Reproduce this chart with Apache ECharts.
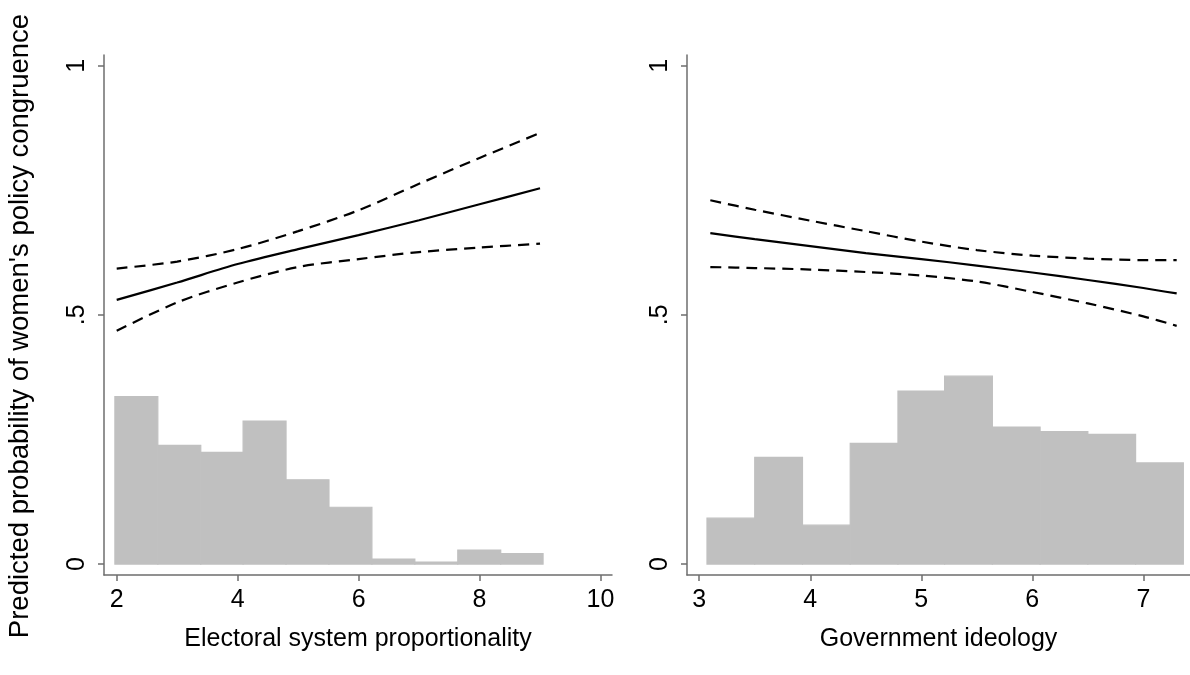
<!DOCTYPE html>
<html>
<head>
<meta charset="utf-8">
<script src="https://cdn.jsdelivr.net/npm/echarts@6/dist/echarts.min.js"></script>
<style>
html,body{margin:0;padding:0;background:#fff;}
#chart{width:1190px;height:675px;}
</style>
</head>
<body>
<div id="chart"></div>
<script>
// ---- Data ----
const yTicks = [0, 0.5, 1];
const yTickLabels = ['0', '.5', '1'];

// Left panel: Electoral system proportionality
const leftXTicks = [2, 4, 6, 8, 10];
const leftX = [2, 3, 4, 5, 6, 7, 8, 9];
const leftFit = [0.530, 0.565, 0.602, 0.632, 0.660, 0.690, 0.722, 0.754];
const leftUpper = [0.593, 0.607, 0.632, 0.668, 0.710, 0.763, 0.815, 0.865];
const leftLower = [0.468, 0.525, 0.565, 0.596, 0.612, 0.626, 0.635, 0.643];
const leftHistEdges = [1.97, 2.68, 3.39, 4.09, 4.80, 5.51, 6.22, 6.93, 7.64, 8.35, 9.05];
const leftHistHeights = [0.336, 0.238, 0.224, 0.287, 0.169, 0.114, 0.010, 0.004, 0.028, 0.021];

// Right panel: Government ideology
const rightXTicks = [3, 4, 5, 6, 7];
const rightX = [3.1, 3.5, 4, 4.5, 5, 5.5, 6, 6.5, 7, 7.3];
const rightFit = [0.664, 0.652, 0.638, 0.624, 0.612, 0.599, 0.585, 0.570, 0.554, 0.543];
const rightUpper = [0.730, 0.711, 0.689, 0.668, 0.647, 0.630, 0.619, 0.613, 0.610, 0.610];
const rightLower = [0.596, 0.594, 0.591, 0.586, 0.579, 0.567, 0.546, 0.523, 0.497, 0.478];
const rightHistEdges = [3.07, 3.50, 3.93, 4.36, 4.79, 5.21, 5.64, 6.07, 6.50, 6.93, 7.36];
const rightHistHeights = [0.092, 0.214, 0.078, 0.242, 0.347, 0.377, 0.275, 0.266, 0.260, 0.203];

const yTitle = "Predicted probability of women's policy congruence";
const leftXTitle = 'Electoral system proportionality';
const rightXTitle = 'Government ideology';

// ---- Build chart ----
const FONT = "'Liberation Sans', Arial, sans-serif";
const AXIS_COLOR = '#6e6e6e';
const HIST_COLOR = '#c0c0c0';

function pairs(xs, ys) { return xs.map((x, i) => [x, ys[i]]); }
function histData(edges, heights) {
  return heights.map((h, i) => [edges[i], edges[i + 1], h]);
}
function histRender(params, api) {
  const p0 = api.coord([api.value(0), api.value(2)]);
  const p1 = api.coord([api.value(1), 0]);
  return {
    type: 'rect',
    shape: { x: p0[0], y: p0[1], width: p1[0] - p0[0], height: p1[1] - p0[1] },
    style: { fill: HIST_COLOR, stroke: HIST_COLOR, lineWidth: 1.2 }
  };
}

function xAxisCfg(idx, min, max, ticks, title) {
  return {
    type: 'value', gridIndex: idx, min: min, max: max,
    name: title, nameLocation: 'middle', nameGap: 52,
    nameTextStyle: { fontFamily: FONT, fontSize: 25, color: '#000' },
    axisLine: { show: true, onZero: false, lineStyle: { color: AXIS_COLOR, width: 1.5 } },
    axisTick: { show: true, length: 6, customValues: ticks, lineStyle: { color: AXIS_COLOR, width: 1.5 } },
    axisLabel: { customValues: ticks, margin: 13, fontFamily: FONT, fontSize: 25, color: '#000' },
    splitLine: { show: false }
  };
}
function yAxisCfg(idx, withName) {
  const cfg = {
    type: 'value', gridIndex: idx, min: -0.022, max: 1.0215,
    axisLine: { show: true, onZero: false, lineStyle: { color: AXIS_COLOR, width: 1.5 } },
    axisTick: { show: true, length: 6, customValues: yTicks, lineStyle: { color: AXIS_COLOR, width: 1.5 } },
    axisLabel: {
      customValues: yTicks, rotate: 90, margin: 14,
      fontFamily: FONT, fontSize: 25, color: '#000',
      formatter: function (v) { const i = yTicks.indexOf(v); return i >= 0 ? yTickLabels[i] : ''; }
    },
    splitLine: { show: false }
  };
  if (withName) {
    cfg.name = yTitle;
    cfg.nameLocation = 'middle';
    cfg.nameGap = 70;
    cfg.nameRotate = 90;
    cfg.nameTextStyle = { fontFamily: FONT, fontSize: 27.5, color: '#000', padding: [0, 22, 0, 0] };
  }
  return cfg;
}
function lineSeries(idx, xs, ys, dashed) {
  return {
    type: 'line', xAxisIndex: idx, yAxisIndex: idx,
    data: pairs(xs, ys), showSymbol: false, smooth: 0.3, z: 5,
    lineStyle: { color: '#000', width: 2.2, type: dashed ? [11, 7] : 'solid' },
    silent: true
  };
}

const chart = echarts.init(document.getElementById('chart'), null, { renderer: 'canvas' });
chart.setOption({
  animation: false,
  backgroundColor: '#fff',
  grid: [
    { left: 104, top: 55, width: 508, height: 520, containLabel: false },
    { left: 687, top: 55, width: 503, height: 520, containLabel: false }
  ],
  xAxis: [
    xAxisCfg(0, 1.79, 10.19, leftXTicks, leftXTitle),
    xAxisCfg(1, 2.89, 7.42, rightXTicks, rightXTitle)
  ],
  yAxis: [yAxisCfg(0, true), yAxisCfg(1, false)],
  series: [
    { type: 'custom', xAxisIndex: 0, yAxisIndex: 0, renderItem: histRender,
      data: histData(leftHistEdges, leftHistHeights), z: 1, silent: true },
    { type: 'custom', xAxisIndex: 1, yAxisIndex: 1, renderItem: histRender,
      data: histData(rightHistEdges, rightHistHeights), z: 1, silent: true },
    lineSeries(0, leftX, leftFit, false),
    lineSeries(0, leftX, leftUpper, true),
    lineSeries(0, leftX, leftLower, true),
    lineSeries(1, rightX, rightFit, false),
    lineSeries(1, rightX, rightUpper, true),
    lineSeries(1, rightX, rightLower, true)
  ]
});
</script>
</body>
</html>
